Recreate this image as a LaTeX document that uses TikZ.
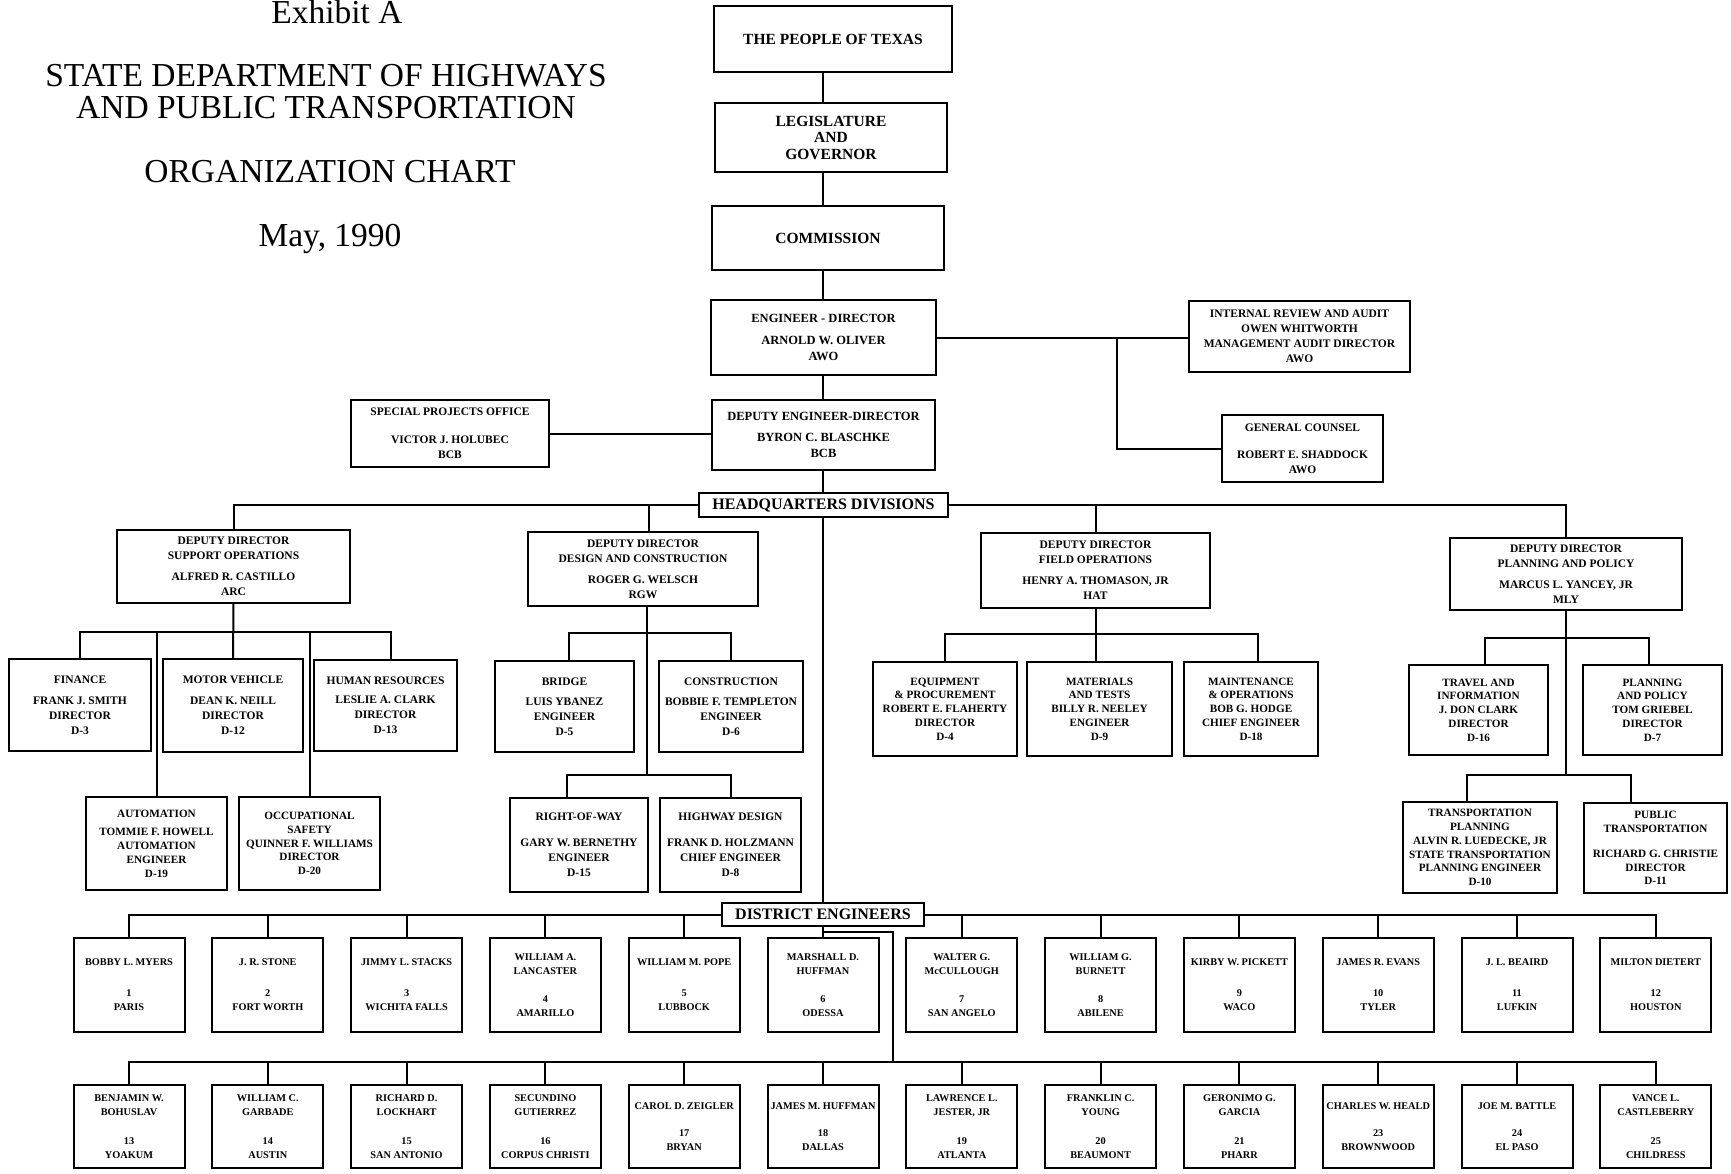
\documentclass[tikz,border=0pt]{standalone}
\usepackage{fontspec}
\setmainfont{Liberation Serif}
\newcommand\OB[7]{%
 \pgfmathsetmacro\obw{#4-#2}\pgfmathsetmacro\obh{#5-#3}%
 \pgfmathsetmacro\obx{(#2+#4)/2}\pgfmathsetmacro\oby{(#3+#5)/2}%
 \node[bx,#6,minimum width=\obw pt,minimum height=\obh pt] (#1) at (\obx,\oby) {#7};}
\newcommand\DB[4]{\node[bx,dist,minimum width=111pt,minimum height=#3pt] (#1) at (#2) {#4};}
\begin{document}
\begin{tikzpicture}[x=1pt,y=-1pt,
 bx/.style={draw,line width=2pt,fill=white,inner sep=0pt,outer sep=0pt,align=center},
 big/.style={font=\bfseries\fontsize{15.5}{16.5}\selectfont},
 med/.style={font=\bfseries\fontsize{12.5}{16}\selectfont},
 sm/.style={font=\bfseries\fontsize{11.5}{15}\selectfont},
 tight/.style={font=\bfseries\fontsize{11.2}{13.8}\selectfont},
 dist/.style={font=\bfseries\fontsize{10.3}{14}\selectfont},
 hdr/.style={font=\bfseries\fontsize{16}{17}\selectfont},
 ttl/.style={font=\fontsize{33.5}{36}\selectfont,anchor=base,inner sep=0pt},
 ln/.style={line width=2pt}]
\useasboundingbox (0,0) rectangle (1731,1174);
\fill[white] (0,0) rectangle (1731,1174);

% titles
\node[ttl] (t0) at (337,24) {Exhibit A};
\node[ttl] (t1) at (326,87) {STATE DEPARTMENT OF HIGHWAYS};
\node[ttl] (t2) at (326,119) {AND PUBLIC TRANSPORTATION};
\node[ttl] (t3) at (330,183) {ORGANIZATION CHART};
\node[ttl] (t4) at (330,247) {May, 1990};

\coordinate (sp) at (823,0);

% top
\OB{people}{714}{6}{952}{72}{big}{THE PEOPLE OF TEXAS}
\OB{legis}{715}{103}{947}{172}{big}{LEGISLATURE\\AND\\GOVERNOR}
\OB{comm}{712}{206}{944}{270}{big}{COMMISSION}
\OB{ed}{711}{300}{936}{375}{med}{ENGINEER - DIRECTOR\\[6pt]ARNOLD W. OLIVER\\AWO}
\OB{dep}{712}{400}{935}{470}{med}{DEPUTY ENGINEER-DIRECTOR\\[5pt]BYRON C. BLASCHKE\\BCB}
\OB{spo}{351}{400}{549}{467}{sm}{SPECIAL PROJECTS OFFICE\\[13pt]VICTOR J. HOLUBEC\\BCB}
\OB{ir}{1189}{301}{1410}{372}{sm}{INTERNAL REVIEW AND AUDIT\\OWEN WHITWORTH\\MANAGEMENT AUDIT DIRECTOR\\AWO}
\OB{gc}{1222}{415}{1383}{482}{sm}{GENERAL COUNSEL\\[12pt]ROBERT E. SHADDOCK\\AWO}
\OB{hq}{699}{493}{948}{517}{hdr}{HEADQUARTERS DIVISIONS}

% support operations
\OB{so}{117}{530}{350}{603}{sm}{DEPUTY DIRECTOR\\SUPPORT OPERATIONS\\[6pt]ALFRED R. CASTILLO\\ARC}
\OB{fin}{9}{659}{151}{751}{sm}{FINANCE\\[6pt]FRANK J. SMITH\\DIRECTOR\\D-3}
\OB{mv}{163}{659}{303}{752}{sm}{MOTOR VEHICLE\\[6pt]DEAN K. NEILL\\DIRECTOR\\D-12}
\OB{hr}{314}{660}{457}{751}{sm}{HUMAN RESOURCES\\[4pt]LESLIE A. CLARK\\DIRECTOR\\D-13}
\OB{auto}{86}{797}{227}{890}{tight}{AUTOMATION\\[5pt]TOMMIE F. HOWELL\\AUTOMATION\\ENGINEER\\D-19}
\OB{os}{239}{797}{380}{890}{tight}{OCCUPATIONAL\\SAFETY\\QUINNER F. WILLIAMS\\DIRECTOR\\D-20}

% design and construction
\OB{ds}{528}{532}{758}{606}{sm}{DEPUTY DIRECTOR\\DESIGN AND CONSTRUCTION\\[6pt]ROGER G. WELSCH\\RGW}
\OB{br}{495}{661}{634}{752}{sm}{BRIDGE\\[5pt]LUIS YBANEZ\\ENGINEER\\D-5}
\OB{con}{659}{661}{803}{752}{sm}{CONSTRUCTION\\[5pt]BOBBIE F. TEMPLETON\\ENGINEER\\D-6}
\OB{rw}{510}{798}{648}{892}{sm}{RIGHT-OF-WAY\\[11pt]GARY W. BERNETHY\\ENGINEER\\D-15}
\OB{hd}{660}{798}{801}{892}{sm}{HIGHWAY DESIGN\\[11pt]FRANK D. HOLZMANN\\CHIEF ENGINEER\\D-8}

% field operations
\OB{fo}{981}{533}{1210}{608}{sm}{DEPUTY DIRECTOR\\FIELD OPERATIONS\\[6pt]HENRY A. THOMASON, JR\\HAT}
\OB{eq}{873}{662}{1017}{756}{tight}{EQUIPMENT\\\& PROCUREMENT\\ROBERT E. FLAHERTY\\DIRECTOR\\D-4}
\OB{mat}{1027}{662}{1172}{756}{tight}{MATERIALS\\AND TESTS\\BILLY R. NEELEY\\ENGINEER\\D-9}
\OB{mt}{1184}{662}{1318}{756}{tight}{MAINTENANCE\\\& OPERATIONS\\BOB G. HODGE\\CHIEF ENGINEER\\D-18}

% planning and policy
\OB{pp}{1450}{538}{1682}{610}{sm}{DEPUTY DIRECTOR\\PLANNING AND POLICY\\[6pt]MARCUS L. YANCEY, JR\\MLY}
\OB{tr}{1409}{665}{1548}{755}{tight}{TRAVEL AND\\INFORMATION\\J. DON CLARK\\DIRECTOR\\D-16}
\OB{plp}{1583}{665}{1722}{755}{tight}{PLANNING\\AND POLICY\\TOM GRIEBEL\\DIRECTOR\\D-7}
\OB{tp}{1403}{802}{1557}{893}{tight}{TRANSPORTATION\\PLANNING\\ALVIN R. LUEDECKE, JR\\STATE TRANSPORTATION\\PLANNING ENGINEER\\D-10}
\OB{pt}{1584}{803}{1727}{893}{tight}{PUBLIC\\TRANSPORTATION\\[11pt]RICHARD G. CHRISTIE\\DIRECTOR\\D-11}

% district engineers
\OB{de}{722}{903}{924}{926}{hdr}{DISTRICT ENGINEERS}
\DB{d1}{129,985}{94}{BOBBY L. MYERS\\[17pt]1\\PARIS}
\DB{d2}{267.8,985}{94}{J. R. STONE\\[17pt]2\\FORT WORTH}
\DB{d3}{406.6,985}{94}{JIMMY L. STACKS\\[17pt]3\\WICHITA FALLS}
\DB{d4}{545.4,985}{94}{WILLIAM A.\\LANCASTER\\[14pt]4\\AMARILLO}
\DB{d5}{684.2,985}{94}{WILLIAM M. POPE\\[17pt]5\\LUBBOCK}
\DB{d6}{823,985}{94}{MARSHALL D.\\HUFFMAN\\[14pt]6\\ODESSA}
\DB{d7}{961.8,985}{94}{WALTER G.\\McCULLOUGH\\[14pt]7\\SAN ANGELO}
\DB{d8}{1100.6,985}{94}{WILLIAM G.\\BURNETT\\[14pt]8\\ABILENE}
\DB{d9}{1239.4,985}{94}{KIRBY W. PICKETT\\[17pt]9\\WACO}
\DB{d10}{1378.2,985}{94}{JAMES R. EVANS\\[17pt]10\\TYLER}
\DB{d11}{1517,985}{94}{J. L. BEAIRD\\[17pt]11\\LUFKIN}
\DB{d12}{1655.8,985}{94}{MILTON DIETERT\\[17pt]12\\HOUSTON}

\DB{d13}{129,1126.5}{83}{BENJAMIN W.\\BOHUSLAV\\[15pt]13\\YOAKUM}
\DB{d14}{267.8,1126.5}{83}{WILLIAM C.\\GARBADE\\[15pt]14\\AUSTIN}
\DB{d15}{406.6,1126.5}{83}{RICHARD D.\\LOCKHART\\[15pt]15\\SAN ANTONIO}
\DB{d16}{545.4,1126.5}{83}{SECUNDINO\\GUTIERREZ\\[15pt]16\\CORPUS CHRISTI}
\DB{d17}{684.2,1126.5}{83}{CAROL D. ZEIGLER\\[13pt]17\\BRYAN}
\DB{d18}{823,1126.5}{83}{JAMES M. HUFFMAN\\[13pt]18\\DALLAS}
\DB{d19}{961.8,1126.5}{83}{LAWRENCE L.\\JESTER, JR\\[15pt]19\\ATLANTA}
\DB{d20}{1100.6,1126.5}{83}{FRANKLIN C.\\YOUNG\\[15pt]20\\BEAUMONT}
\DB{d21}{1239.4,1126.5}{83}{GERONIMO G.\\GARCIA\\[15pt]21\\PHARR}
\DB{d23}{1378.2,1126.5}{83}{CHARLES W. HEALD\\[13pt]23\\BROWNWOOD}
\DB{d24}{1517,1126.5}{83}{JOE M. BATTLE\\[13pt]24\\EL PASO}
\DB{d25}{1655.8,1126.5}{83}{VANCE L.\\CASTLEBERRY\\[15pt]25\\CHILDRESS}

% connectors: spine
\draw[ln] (sp |- people.south) -- (sp |- legis.north);
\draw[ln] (sp |- legis.south) -- (sp |- comm.north);
\draw[ln] (sp |- comm.south) -- (sp |- ed.north);
\draw[ln] (sp |- ed.south) -- (sp |- dep.north);
\draw[ln] (sp |- dep.south) -- (sp |- hq.north);
\draw[ln] (sp |- hq.south) -- (sp |- de.north);
\draw[ln] (spo.east) -- (spo.east -| dep.west);
\draw[ln] (ed.east) -- (ed.east -| ir.west);
\coordinate (gcx) at (1117,0);
\draw[ln] (gcx |- ed.east) |- (gc.west);

% headquarters bus
\draw[ln] (so.north) |- (hq.west);
\draw[ln] (pp.north) |- (hq.east);
\draw[ln] ([xshift=6pt]ds.north) -- ([xshift=6pt]ds.north |- hq.west);
\draw[ln] (fo.north) -- (fo.north |- hq.east);

% support operations
\coordinate (sob) at (233,632);
\draw[ln] (so.south) -- (mv.north);
\draw[ln] (fin.north) |- (sob) -| ([xshift=5pt]hr.north);
\draw[ln] (auto.north) -- (auto.north |- sob);
\draw[ln] (os.north) -- (os.north |- sob);

% design and construction
\coordinate (dsb1) at (647,633);
\coordinate (dsb2) at (647,775);
\draw[ln] ([xshift=4pt]ds.south) -- (dsb2);
\draw[ln] ([xshift=4pt]br.north) |- (dsb1) -| (con.north);
\draw[ln] ([xshift=-12pt]rw.north) |- (dsb2) -| (hd.north);

% field operations
\coordinate (fob) at (1095.5,634);
\draw[ln] (fo.south) -- (fo.south |- mat.north);
\draw[ln] (eq.north) |- (fob) -| ([xshift=7pt]mt.north);

% planning and policy
\coordinate (ppb1) at (1566,638);
\coordinate (ppb2) at (1566,775);
\draw[ln] (pp.south) -- (ppb2);
\draw[ln] ([xshift=6pt]tr.north) |- (ppb1) -| ([xshift=-4pt]plp.north);
\draw[ln] ([xshift=-13pt]tp.north) |- (ppb2) -| ([xshift=-25pt]pt.north);

% district row 1
\draw[ln] (d1.north) |- (de.west);
\draw[ln] (d12.north) |- (de.east);
\foreach \d in {d2,d3,d4,d5,d7,d8,d9,d10,d11}
  \draw[ln] (\d.north) -- (\d.north |- de.west);
\draw[ln] (de.south) -- (d6.north);

% district row 2
\coordinate (brk) at (823,932);
\coordinate (r2) at (893,1062);
\draw[ln] (brk) -| (r2);
\draw[ln] (d13.north) |- (r2) -| (d25.north);
\foreach \d in {d14,d15,d16,d17,d18,d19,d20,d21,d23,d24}
  \draw[ln] (\d.north) -- (\d.north |- r2);
\end{tikzpicture}
\end{document}
